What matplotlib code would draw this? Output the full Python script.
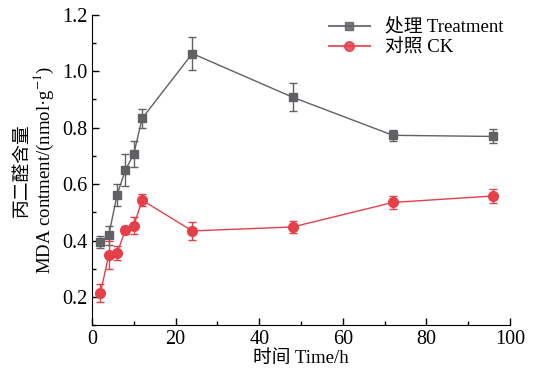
import matplotlib
matplotlib.use("Agg")
import matplotlib.pyplot as plt
from matplotlib.lines import Line2D
from matplotlib.ticker import MultipleLocator

plt.rcParams["font.family"] = ["Liberation Serif", "Noto Sans CJK SC"]
plt.rcParams["mathtext.fontset"] = "stix"

time_h = [2, 4, 6, 8, 10, 12, 24, 48, 72, 96]
treat = [0.395, 0.418, 0.562, 0.650, 0.707, 0.833, 1.063, 0.908, 0.773, 0.769]
treat_err = [0.020, 0.035, 0.040, 0.055, 0.045, 0.035, 0.058, 0.050, 0.020, 0.025]
ck = [0.213, 0.348, 0.356, 0.437, 0.453, 0.543, 0.434, 0.448, 0.535, 0.558]
ck_err = [0.032, 0.050, 0.025, 0.015, 0.030, 0.022, 0.032, 0.022, 0.022, 0.025]

gray = "#616165"
red = "#e5404a"

fig = plt.figure(figsize=(5.38, 3.72), dpi=100)
ax = fig.add_axes([0.171, 0.126, 0.777, 0.834])

ax.errorbar(time_h, treat, yerr=treat_err, color=gray, marker="s",
            ms=6, lw=1, capsize=3, elinewidth=1)
ax.errorbar(time_h, ck, yerr=ck_err, color=red, marker="o",
            ms=7, lw=1, capsize=3, elinewidth=1)

ax.set_xlim(0, 100)
ax.set_ylim(0.1, 1.2)
ax.xaxis.set_major_locator(MultipleLocator(20))
ax.xaxis.set_minor_locator(MultipleLocator(10))
ax.yaxis.set_major_locator(MultipleLocator(0.2))
ax.yaxis.set_minor_locator(MultipleLocator(0.1))
ax.tick_params(which="both", direction="in", labelsize=14.5, width=1)
ax.tick_params(which="major", length=5)
ax.tick_params(which="minor", length=3)
ax.spines["top"].set_visible(False)
ax.spines["right"].set_visible(False)

ax.set_xlabel("时间 Time/h", fontsize=13.5, labelpad=1)
ax.set_ylabel("丙二醛含量\nMDA contment/(nmol·g$^{-1}$)", fontsize=13.5,
              linespacing=1.1)

handles = [
    Line2D([], [], color=gray, lw=1.5, marker="s", ms=6, alpha=0.85),
    Line2D([], [], color=red, lw=1.5, marker="o", ms=7, alpha=0.85),
]
ax.legend(handles, ["处理 Treatment", "对照 CK"], loc="upper right",
          frameon=False, fontsize=13.5, bbox_to_anchor=(1.025, 1.04),
          handlelength=2.2, labelspacing=0.15, handletextpad=0.8)

fig.savefig("out.png", dpi=100)
